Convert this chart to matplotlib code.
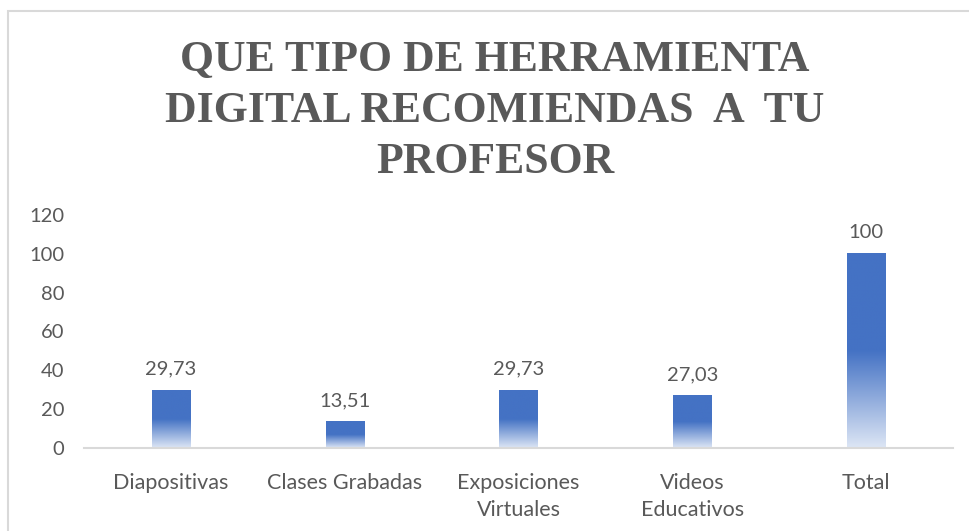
import numpy as np
import matplotlib
matplotlib.use("Agg")
import matplotlib.pyplot as plt
from matplotlib.colors import LinearSegmentedColormap
from matplotlib.patches import Rectangle

# Data
categories = ["Diapositivas", "Clases Grabadas", "Exposiciones\nVirtuales",
              "Videos\nEducativos", "Total"]
values = [29.73, 13.51, 29.73, 27.03, 100]
value_labels = ["29,73", "13,51", "29,73", "27,03", "100"]
y_ticks = [0, 20, 40, 60, 80, 100, 120]
title = "QUE TIPO DE HERRAMIENTA\nDIGITAL RECOMIENDAS  A  TU\nPROFESOR"

text_gray = "#595959"
bar_blue = "#4472C4"
bar_width = 0.22

plt.rcParams["font.family"] = ["Lato", "DejaVu Sans"]

fig = plt.figure(figsize=(9.69, 5.31), dpi=100)

# chart-area border (the picture is cropped at right/bottom)
fig.patches.append(Rectangle((8 / 969, -0.1), 1.2, 1 - 11 / 531 + 0.1,
                             transform=fig.transFigure, fill=False,
                             edgecolor="#d9d9d9", linewidth=1.5))

ax = fig.add_axes([84 / 969, 1 - 448 / 531, (953 - 84) / 969, (448 - 215) / 531])

# gradient: solid in upper half of bar, fading to pale at the bottom
cmap = LinearSegmentedColormap.from_list(
    "grad", [(0.0, "#dde6f5"), (0.5, bar_blue), (1.0, bar_blue)])
grad = np.linspace(0, 1, 256).reshape(-1, 1)

x = np.arange(len(categories))
bars = ax.bar(x, values, width=bar_width, color="none", edgecolor="none")
for b in bars:
    x0, w, h = b.get_x(), b.get_width(), b.get_height()
    ax.imshow(grad, extent=[x0, x0 + w, 0, h], origin="lower", cmap=cmap,
              aspect="auto", zorder=2, interpolation="bilinear")

for xi, v, lab in zip(x, values, value_labels):
    ax.annotate(lab, (xi, v), xytext=(0, 9), textcoords="offset points",
                ha="center", va="bottom", fontsize=14.5, color=text_gray)

ax.set_xlim(-0.5, len(categories) - 0.5)
ax.set_ylim(0, 120)
ax.set_yticks(y_ticks)
ax.set_xticks(x)
ax.set_xticklabels(categories, linespacing=1.45)
ax.tick_params(axis="y", length=0, pad=14, labelsize=14.5, labelcolor=text_gray)
ax.tick_params(axis="x", length=0, pad=18, labelsize=15.5, labelcolor=text_gray)

for side in ["top", "right", "left"]:
    ax.spines[side].set_visible(False)
ax.spines["bottom"].set_color("#d9d9d9")
ax.spines["bottom"].set_linewidth(1.5)

fig.text(495 / 969, 1 - 111 / 531, title, ha="center", va="center",
         family="Liberation Serif", fontweight="bold", fontsize=31.5,
         color=text_gray, linespacing=1.35)

fig.savefig("out.png", dpi=100)
